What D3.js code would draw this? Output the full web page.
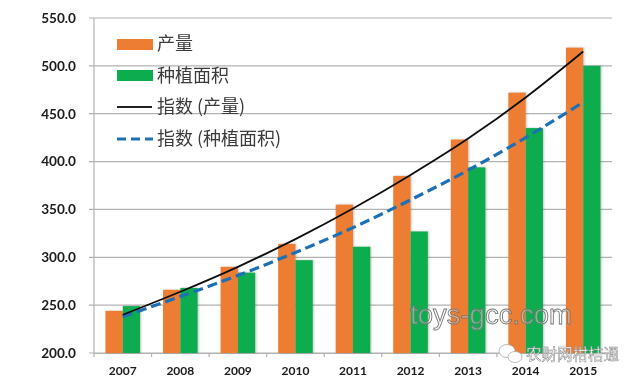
<!DOCTYPE html>
<html>
<head>
<meta charset="utf-8">
<script src="https://cdn.jsdelivr.net/npm/d3@7"></script>
<style>
  html, body { margin: 0; padding: 0; background: #fff; }
  svg { display: block; }
</style>
</head>
<body>
<div id="chart-container"></div>
<script>
const years = ["2007", "2008", "2009", "2010", "2011", "2012", "2013", "2014", "2015"];
const output = [244, 266, 290, 314, 355, 385, 423, 472, 519];
const area = [249, 268, 284, 297, 311, 327, 394, 435, 500];
const outputTrend = [240, 264, 290, 319, 351, 386, 424, 467, 515];
const areaTrend = [238, 259, 281, 305, 331, 360, 391, 425, 462];
const yTicks = [200, 250, 300, 350, 400, 450, 500, 550];
const legendLabels = ["产量", "种植面积", "指数 (产量)", "指数 (种植面积)"];

const margin = { top: 18, right: 28, bottom: 30, left: 94 };
const width = 640 - margin.left - margin.right;
const height = 383 - margin.top - margin.bottom;

const x = d3.scaleBand().domain(years).range([0, width]);
const y = d3.scaleLinear().domain([200, 550]).range([height, 0]);
const barW = 17.3;

const svg = d3.select("#chart-container")
  .append("svg")
    .attr("width", 640)
    .attr("height", 383);

const defs = svg.append("defs");
defs.append("filter").attr("id", "soft")
  .append("feGaussianBlur").attr("stdDeviation", 0.45);
defs.append("filter").attr("id", "shadow")
    .attr("x", "-30%").attr("width", "160%")
  .append("feDropShadow")
    .attr("dx", 1).attr("dy", 0).attr("stdDeviation", 1)
    .attr("flood-color", "#555").attr("flood-opacity", 0.35);

const g = svg.append("g")
    .attr("transform", `translate(${margin.left},${margin.top})`)
    .attr("filter", "url(#soft)");

// gridlines + y axis
g.append("g").selectAll("line").data(yTicks).join("line")
    .attr("x1", -5).attr("x2", width)
    .attr("y1", d => y(d)).attr("y2", d => y(d))
    .attr("stroke", "#b2b2b2").attr("stroke-width", 1.2);
g.append("line").attr("y1", 0).attr("y2", height)
    .attr("stroke", "#b2b2b2").attr("stroke-width", 1.2);

const xAxis = g.append("g")
    .attr("transform", `translate(0,${height})`)
    .call(d3.axisBottom(x).tickSizeOuter(0).tickSize(0));
xAxis.select(".domain").attr("stroke", "#b2b2b2").attr("stroke-width", 1.2);
xAxis.selectAll("text")
    .attr("y", 13)
    .attr("font-family", "Lato, sans-serif")
    .attr("font-weight", 700)
    .attr("font-size", 12)
    .attr("fill", "#1a1a1a");
// ticks between the categories
g.append("g").selectAll("line").data(years.concat("end")).join("line")
    .attr("x1", (d, i) => i * x.step()).attr("x2", (d, i) => i * x.step())
    .attr("y1", height).attr("y2", height + 4)
    .attr("stroke", "#b2b2b2").attr("stroke-width", 1.2);

const yAxis = g.append("g")
    .call(d3.axisLeft(y).tickValues(yTicks).tickSize(0).tickFormat(d3.format(".1f")));
yAxis.select(".domain").remove();
yAxis.selectAll("text")
    .attr("x", -18)
    .attr("font-family", "Lato, sans-serif")
    .attr("font-weight", 700)
    .attr("font-size", 13.6)
    .attr("fill", "#1a1a1a");

const center = d => x(d) + x.bandwidth() / 2;

const bars = g.append("g").attr("filter", "url(#shadow)");
bars.append("g").selectAll("rect").data(years).join("rect")
    .attr("x", d => center(d) - barW)
    .attr("width", barW)
    .attr("y", (d, i) => y(output[i]))
    .attr("height", (d, i) => height - y(output[i]))
    .attr("fill", "#ed7d31");
bars.append("g").selectAll("rect").data(years).join("rect")
    .attr("x", d => center(d))
    .attr("width", barW)
    .attr("y", (d, i) => y(area[i]))
    .attr("height", (d, i) => height - y(area[i]))
    .attr("fill", "#0cad4f");

const line = d3.line()
    .x((d, i) => center(years[i]))
    .y(d => y(d))
    .curve(d3.curveMonotoneX);

g.append("path").datum(areaTrend)
    .attr("fill", "none")
    .attr("stroke", "#1f6fb5")
    .attr("stroke-width", 3.2)
    .attr("stroke-dasharray", "10 5")
    .attr("d", line);
g.append("path").datum(outputTrend)
    .attr("fill", "none")
    .attr("stroke", "#111")
    .attr("stroke-width", 1.8)
    .attr("d", line);

// legend
const legend = svg.append("g").attr("filter", "url(#soft)");
const rowY = [44, 76, 107, 139];
legend.selectAll("text").data(legendLabels).join("text")
    .attr("x", 157)
    .attr("y", (d, i) => rowY[i] + 6)
    .attr("font-family", "'Noto Sans CJK SC', sans-serif")
    .attr("font-size", 18)
    .attr("fill", "#3a3a3a")
    .text(d => d);
legend.append("rect").attr("x", 117).attr("y", 39).attr("width", 36).attr("height", 11).attr("fill", "#ed7d31");
legend.append("rect").attr("x", 117).attr("y", 70).attr("width", 36).attr("height", 11).attr("fill", "#0cad4f");
legend.append("line").attr("x1", 117).attr("x2", 152).attr("y1", 107).attr("y2", 107)
    .attr("stroke", "#222").attr("stroke-width", 1.8);
legend.append("line").attr("x1", 117).attr("x2", 153).attr("y1", 139).attr("y2", 139)
    .attr("stroke", "#1f6fb5").attr("stroke-width", 3.2).attr("stroke-dasharray", "9 5");

// watermarks
const mark = svg.append("g").attr("filter", "url(#soft)");
mark.append("text")
    .attr("x", 410).attr("y", 324)
    .attr("font-family", "'Liberation Sans', sans-serif")
    .attr("font-size", 27.5)
    .attr("fill", "#fff").attr("fill-opacity", 0.35)
    .attr("stroke", "#777").attr("stroke-width", 0.9)
    .text("toys-gcc.com");
mark.append("text")
    .attr("x", 526).attr("y", 360)
    .attr("font-family", "'Noto Sans CJK SC', sans-serif")
    .attr("font-size", 15.5)
    .attr("fill", "#fff")
    .attr("stroke", "#888").attr("stroke-width", 0.5)
    .text("农财网柑桔通");
// wechat bubbles
mark.append("ellipse").attr("cx", 507).attr("cy", 351).attr("rx", 8).attr("ry", 6.5)
    .attr("fill", "#fff").attr("stroke", "#aaa").attr("stroke-width", 0.8);
mark.append("ellipse").attr("cx", 515).attr("cy", 357).attr("rx", 7).attr("ry", 5.5)
    .attr("fill", "#fff").attr("stroke", "#aaa").attr("stroke-width", 0.8);
</script>
</body>
</html>
